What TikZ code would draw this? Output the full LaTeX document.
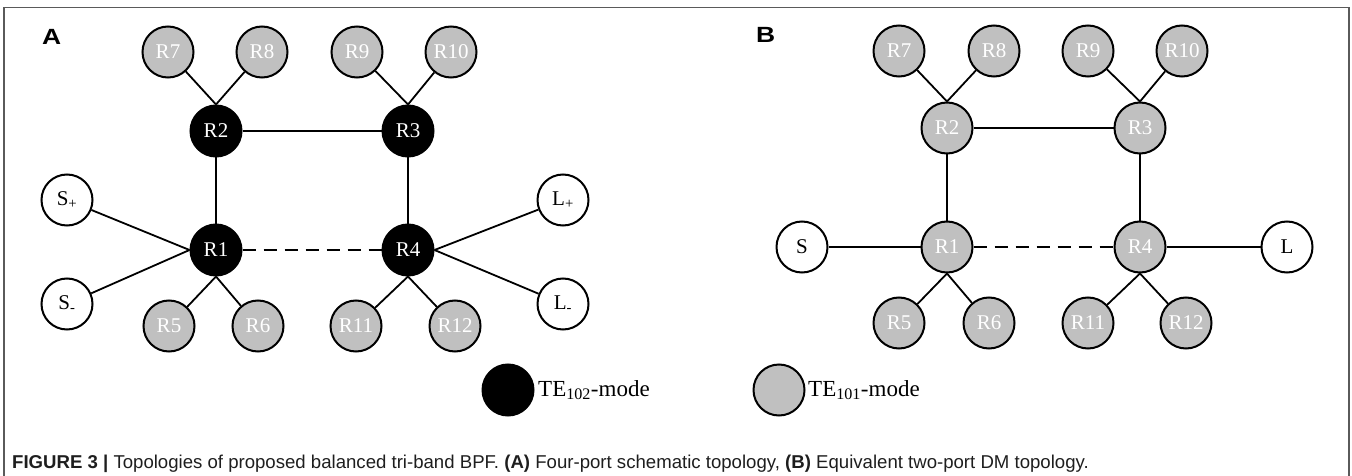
\documentclass[tikz,border=0pt]{standalone}
\usepackage{fontspec}
\setmainfont{Liberation Serif}
\newfontfamily\capfont{Liberation Sans}
\definecolor{tegray}{HTML}{C0C0C0}
\definecolor{framegray}{HTML}{5A5A5A}
\definecolor{captext}{HTML}{1E1E1E}

\tikzset{
  res/.style={circle, draw, line width=2pt, minimum size=51pt, inner sep=0pt,
              font=\fontsize{21}{21}\selectfont},
  te2/.style={res, fill=black, text=white},
  te1/.style={res, fill=tegray, text=white},
  port/.style={res, fill=white, text=black},
  link/.style={line width=1.8pt},
  weak/.style={link, dash pattern=on 13pt off 8pt},
  panel/.style={font=\capfont\bfseries\fontsize{22}{22}\selectfont, anchor=base west, inner sep=0pt},
  legendtext/.style={font=\fontsize{23}{23}\selectfont, anchor=west, inner sep=0pt},
}

\begin{document}
\begin{tikzpicture}[x=1pt, y=-1pt]
\useasboundingbox (0,0) rectangle (1352,476);

% open frame round both panels
\draw[framegray, line width=1.2pt] (4,476) -- (4,7.5) -- (1349,7.5) -- (1349,476);

% ---------- (A) four-port topology ----------
\node[panel] (labA) at (42,45) {\scalebox{1.2}[1]{A}};

\node[te1] (a7)  at (168,52) {R7};
\node[te1] (a8)  at (262,52) {R8};
\node[te1] (a9)  at (357,52) {R9};
\node[te1] (a10) at (451,52) {R10};
\node[te2] (a2)  at (216,131) {R2};
\node[te2] (a3)  at (408,131) {R3};
\node[te2] (a1)  at (216,250) {R1};
\node[te2] (a4)  at (408,250) {R4};
\node[port] (sp) at (67,200) {S\textsubscript{+}};
\node[port] (sm) at (67,304) {S\textsubscript{-}};
\node[port] (lp) at (563,200) {L\textsubscript{+}};
\node[port] (lm) at (563,304) {L\textsubscript{-}};
\node[te1] (a5)  at (169,326) {R5};
\node[te1] (a6)  at (258,326) {R6};
\node[te1] (a11) at (356,326) {R11};
\node[te1] (a12) at (455,326) {R12};

\draw[link] (a7) -- (a2.north);
\draw[link] (a8) -- (a2.north);
\draw[link] (a9) -- (a3.north);
\draw[link] (a10) -- (a3.north);
\draw[link] (a2) -- (a3);
\draw[link] (a2) -- (a1);
\draw[link] (a3) -- (a4);
\draw[weak] (a1) -- (a4);
\draw[link] (sp) -- (a1.west);
\draw[link] (sm) -- (a1.west);
\draw[link] (lp) -- (a4.east);
\draw[link] (lm) -- (a4.east);
\draw[link] (a1.south) -- (a5);
\draw[link] (a1.south) -- (a6);
\draw[link] (a4.south) -- (a11);
\draw[link] (a4.south) -- (a12);

% ---------- (B) equivalent two-port DM topology ----------
\node[panel] (labB) at (756,43) {\scalebox{1.2}[1]{B}};

\node[te1] (b7)  at (899,51) {R7};
\node[te1] (b8)  at (994,51) {R8};
\node[te1] (b9)  at (1088,51) {R9};
\node[te1] (b10) at (1182,51) {R10};
\node[te1] (b2)  at (947,128) {R2};
\node[te1] (b3)  at (1140,128) {R3};
\node[te1] (b1)  at (947,247) {R1};
\node[te1] (b4)  at (1140,247) {R4};
\node[port] (s)  at (802,247) {S};
\node[port] (l)  at (1287,247) {L};
\node[te1] (b5)  at (899,323) {R5};
\node[te1] (b6)  at (989,323) {R6};
\node[te1] (b11) at (1088,323) {R11};
\node[te1] (b12) at (1186,323) {R12};

\draw[link] (b7) -- (b2.north);
\draw[link] (b8) -- (b2.north);
\draw[link] (b9) -- (b3.north);
\draw[link] (b10) -- (b3.north);
\draw[link] (b2) -- (b3);
\draw[link] (b2) -- (b1);
\draw[link] (b3) -- (b4);
\draw[weak] (b1) -- (b4);
\draw[link] (s) -- (b1);
\draw[link] (b4) -- (l);
\draw[link] (b1.south) -- (b5);
\draw[link] (b1.south) -- (b6);
\draw[link] (b4.south) -- (b11);
\draw[link] (b4.south) -- (b12);

% ---------- mode legend ----------
\node[te2] (key2) at (508,390) {};
\node[legendtext] (key2t) at (538,390) {TE\textsubscript{102}-mode};
\node[te1] (key1) at (779,390) {};
\node[legendtext] (key1t) at (808,390) {TE\textsubscript{101}-mode};

% ---------- caption ----------
\node[anchor=base west, inner sep=0pt, text=captext,
      font=\capfont\fontsize{18.6}{18.6}\selectfont] (cap) at (12,468)
  {\textbf{FIGURE 3 |} Topologies of proposed balanced tri-band BPF. \textbf{(A)} Four-port schematic topology, \textbf{(B)} Equivalent two-port DM topology.};
\end{tikzpicture}
\end{document}
